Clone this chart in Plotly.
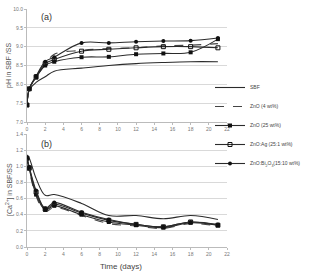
import plotly.graph_objects as go
from plotly.subplots import make_subplots

days = [0, 0.25, 1, 2, 3, 6, 9, 12, 15, 18, 21]

series_names = ["SBF", "ZnO (4 wt%)", "ZnO (25 wt%)", "ZnO:Ag (25:1 wt%)",
                "ZnO:Bi<sub>2</sub>O<sub>3</sub>(15:10 wt%)"]

ph_sbf = [7.45, 7.85, 8.05, 8.2, 8.35, 8.43, 8.5, 8.55, 8.58, 8.6, 8.6]
ph_zno4 = [7.45, 7.88, 8.2, 8.52, 8.8, 8.9, 8.95, 8.97, 9.02, 9.04, 9.08]
ph_zno25 = [7.45, 7.88, 8.18, 8.5, 8.6, 8.72, 8.73, 8.8, 8.82, 8.85, 9.2]
ph_znoag = [7.45, 7.88, 8.2, 8.55, 8.66, 8.88, 8.93, 8.97, 9.0, 9.0, 8.97]
ph_znobi = [7.45, 7.88, 8.22, 8.6, 8.72, 9.1, 9.1, 9.13, 9.15, 9.16, 9.23]

ca_sbf = [1.14, 1.1, 0.85, 0.64, 0.65, 0.54, 0.39, 0.39, 0.35, 0.39, 0.34]
ca_zno4 = [1.08, 0.95, 0.63, 0.44, 0.49, 0.39, 0.29, 0.26, 0.23, 0.29, 0.26]
ca_zno25 = [1.1, 0.97, 0.65, 0.46, 0.51, 0.40, 0.31, 0.27, 0.24, 0.30, 0.27]
ca_znoag = [1.1, 0.98, 0.68, 0.47, 0.53, 0.42, 0.33, 0.28, 0.25, 0.31, 0.27]
ca_znobi = [1.11, 0.99, 0.70, 0.48, 0.55, 0.43, 0.34, 0.28, 0.25, 0.31, 0.28]

ph_data = [ph_sbf, ph_zno4, ph_zno25, ph_znoag, ph_znobi]
ca_data = [ca_sbf, ca_zno4, ca_zno25, ca_znoag, ca_znobi]

LC = "#2b2b2b"
styles = [
    dict(mode="lines", line=dict(color=LC, width=1.1)),
    dict(mode="lines", line=dict(color="#444", width=1.1, dash="dash")),
    dict(mode="lines+markers", line=dict(color=LC, width=1.1),
         marker=dict(symbol="square", size=4, color="#111")),
    dict(mode="lines+markers", line=dict(color=LC, width=1.1),
         marker=dict(symbol="square-open", size=4, color="#111")),
    dict(mode="lines+markers", line=dict(color=LC, width=1.1),
         marker=dict(symbol="circle", size=4, color="#111")),
]

fig = make_subplots(rows=2, cols=1)

for i, name in enumerate(series_names):
    st = styles[i]
    fig.add_trace(go.Scatter(x=days, y=ph_data[i], name=name, legendgroup=f"g{i}",
                             line_shape="spline", showlegend=True, **st), row=1, col=1)
    fig.add_trace(go.Scatter(x=days, y=ca_data[i], name=name, legendgroup=f"g{i}",
                             line_shape="spline", showlegend=False, **st), row=2, col=1)

W, H = 309, 272
xd = [27 / W, 227 / W]
tickfont = dict(size=5, color="#777", family="Liberation Sans")
common_x = dict(range=[0, 22], dtick=2, showgrid=False, showline=True, linecolor="#bbb",
                linewidth=1, ticks="outside", ticklen=2, tickcolor="#bbb", tickfont=tickfont,
                zeroline=False, domain=xd, automargin=False)
common_y = dict(tickformat=".1f", showgrid=True, gridcolor="#d9d9d9",
                gridwidth=1, showline=True, linecolor="#bbb", tickfont=tickfont, zeroline=False,
                ticks="outside", ticklen=2, tickcolor="#bbb", automargin=False)
fig.update_layout(
    xaxis=dict(**common_x),
    xaxis2=dict(**common_x),
    yaxis=dict(**common_y, dtick=0.5, range=[7.0, 10.0],
               domain=[1 - 122 / H, 1 - 9 / H]),
    yaxis2=dict(**common_y, dtick=0.2, range=[0.0, 1.4],
                domain=[1 - 247 / H, 1 - 134 / H]),
    width=W, height=H,
    margin=dict(l=0, r=0, t=0, b=0, autoexpand=False),
    paper_bgcolor="white", plot_bgcolor="white",
    legend=dict(x=210 / W, y=1 - 73 / H, xanchor="left", yanchor="top",
                font=dict(size=5, color="#444", family="Liberation Sans"),
                itemwidth=30, tracegroupgap=0, bgcolor="rgba(0,0,0,0)"),
    annotations=[
        dict(text="(a)", x=46 / W, y=1 - 17 / H, xref="paper", yref="paper", showarrow=False,
             xanchor="center", yanchor="middle",
             font=dict(size=9, color="#333", family="Liberation Sans")),
        dict(text="(b)", x=46 / W, y=1 - 144 / H, xref="paper", yref="paper", showarrow=False,
             xanchor="center", yanchor="middle",
             font=dict(size=9, color="#333", family="Liberation Sans")),
        dict(text="pH in SBF /SS", x=9 / W, y=1 - 66 / H, xref="paper", yref="paper",
             showarrow=False, textangle=-90, xanchor="center", yanchor="middle",
             font=dict(size=7, color="#555", family="Liberation Sans")),
        dict(text="[Ca<sup>2+</sup>] in SBF/SS", x=9 / W, y=1 - 190 / H, xref="paper", yref="paper",
             showarrow=False, textangle=-90, xanchor="center", yanchor="middle",
             font=dict(size=7, color="#555", family="Liberation Sans")),
        dict(text="Time (days)", x=121 / W, y=1 - 266 / H, xref="paper", yref="paper",
             showarrow=False, xanchor="center", yanchor="middle",
             font=dict(size=8, color="#444", family="Liberation Sans")),
    ],
)

fig.write_html("out.html")
